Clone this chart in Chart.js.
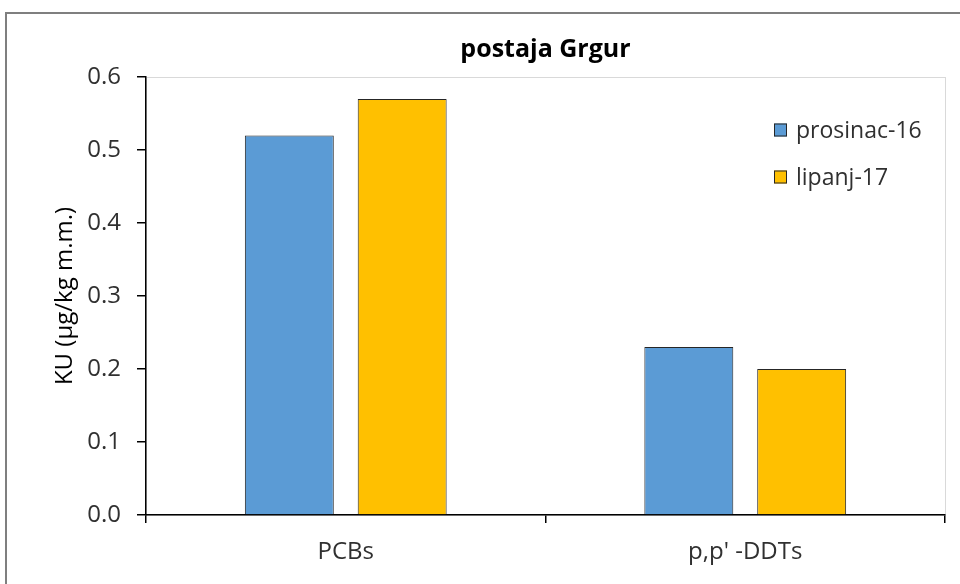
<!DOCTYPE html>
<html>
<head>
<meta charset="utf-8">
<script src="https://cdn.jsdelivr.net/npm/chart.js@4/dist/chart.umd.min.js"></script>
<style>
    html, body { margin: 0; padding: 0; background: #fff; }
    #wrap { position: relative; width: 960px; height: 584px; overflow: hidden; }
    #frame {
        position: absolute; left: 5px; top: 12px;
        width: 1000px; height: 1000px;
        border: 2px solid #7f7f7f;
    }
    #chart { position: absolute; left: 0; top: 0; }
</style>
</head>
<body>
<div id="wrap">
    <div id="frame"></div>
    <canvas id="chart" width="960" height="584"></canvas>
</div>
<script>
    'use strict';

    const categories = ['PCBs', "p,p' -DDTs"];
    const seriesNames = ['prosinac-16', 'lipanj-17'];
    const prosinacValues = [0.52, 0.23];
    const lipanjValues = [0.57, 0.20];
    const yTicks = [0, 0.1, 0.2, 0.3, 0.4, 0.5, 0.6];

    const fontFamily = '"Open Sans", Lato, sans-serif';
    const textColor = '#303030';

    // plot area outline + legend drawn inside the plot area
    const plotDecor = {
        id: 'plotDecor',
        beforeDraw: function (chart) {
            let ctx = chart.ctx,
                area = chart.chartArea;

            ctx.save();
            ctx.strokeStyle = '#d9d9d9';
            ctx.lineWidth = 1;
            ctx.strokeRect(area.left + 0.5, area.top + 0.5, area.right - area.left, area.bottom - area.top);
            ctx.restore();
        },
        afterDraw: function (chart) {
            let ctx = chart.ctx,
                x = 774,
                y = 130;

            ctx.save();
            ctx.font = '23px ' + fontFamily;
            ctx.textBaseline = 'middle';
            chart.data.datasets.forEach(function (ds, i) {
                let cy = y + i * 47;
                ctx.fillStyle = ds.backgroundColor;
                ctx.fillRect(x, cy - 6.5, 13, 13);
                ctx.strokeStyle = '#262626';
                ctx.lineWidth = 1;
                ctx.strokeRect(x + 0.5, cy - 6, 12, 12);
                ctx.fillStyle = textColor;
                ctx.fillText(ds.label, x + 22, cy + 1);
            });
            ctx.restore();
        }
    };

    new Chart(document.getElementById('chart'), {
        type: 'bar',
        data: {
            labels: categories,
            datasets: [{
                label: seriesNames[0],
                data: prosinacValues,
                backgroundColor: '#5b9bd5',
                borderColor: '#262626',
                borderWidth: 1
            }, {
                label: seriesNames[1],
                data: lipanjValues,
                backgroundColor: '#ffc000',
                borderColor: '#262626',
                borderWidth: 1
            }]
        },
        options: {
            responsive: false,
            animation: false,
            devicePixelRatio: 1,
            categoryPercentage: 0.565,
            barPercentage: 0.788,
            layout: {
                padding: { left: 6, right: 15, top: 15, bottom: 0 }
            },
            plugins: {
                legend: { display: false },
                tooltip: { enabled: false },
                title: {
                    display: true,
                    text: 'postaja Grgur',
                    fullSize: false,
                    color: '#000',
                    font: { family: fontFamily, size: 25, weight: 'bold' },
                    padding: { top: 20, bottom: 12 }
                }
            },
            scales: {
                x: {
                    afterFit: function (scale) {
                        scale.height = 69;
                    },
                    grid: {
                        offset: true,
                        drawOnChartArea: false,
                        color: '#000',
                        tickLength: 8,
                        lineWidth: 1.5
                    },
                    border: { color: '#000', width: 1.5 },
                    ticks: {
                        color: textColor,
                        padding: 15,
                        font: { family: fontFamily, size: 24 }
                    }
                },
                y: {
                    min: 0,
                    max: 0.6,
                    afterFit: function (scale) {
                        scale.width = 140;
                    },
                    afterBuildTicks: function (scale) {
                        scale.ticks = yTicks.map(function (v) { return { value: v }; });
                    },
                    grid: {
                        drawOnChartArea: false,
                        color: '#000',
                        tickLength: 9,
                        lineWidth: 1.5
                    },
                    border: { color: '#000', width: 1.5 },
                    ticks: {
                        color: textColor,
                        padding: 16,
                        font: { family: fontFamily, size: 24 },
                        callback: function (v) { return Number(v).toFixed(1); }
                    },
                    title: {
                        display: true,
                        text: 'KU (µg/kg m.m.)',
                        color: '#000',
                        font: { family: fontFamily, size: 24 },
                        padding: { top: 45, bottom: 0 }
                    }
                }
            }
        },
        plugins: [plotDecor]
    });
</script>
</body>
</html>
